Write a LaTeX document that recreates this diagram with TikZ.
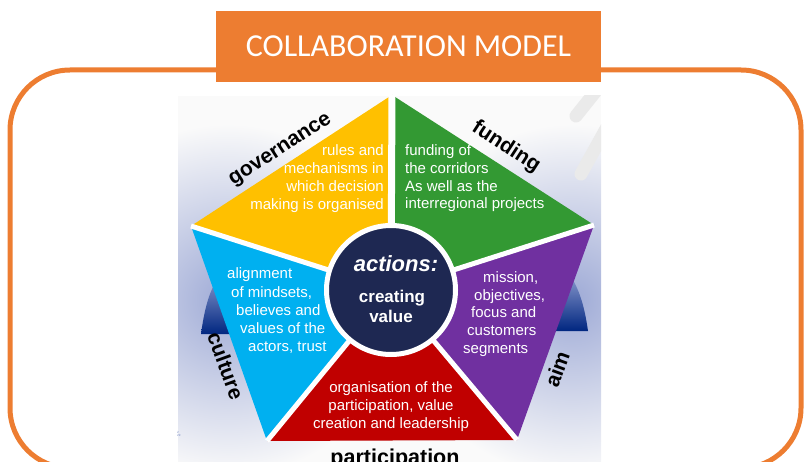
\documentclass[tikz,border=0pt]{standalone}
\usepackage{fontspec}
\setmainfont{Liberation Sans}
\newfontfamily\titlefont{Carlito}
\definecolor{frameorange}{RGB}{237,125,49}
\definecolor{bggrey}{RGB}{250,250,250}
\definecolor{glowblue}{RGB}{158,170,214}
\definecolor{wedgeblue}{RGB}{0,38,128}
\definecolor{wedgetop}{RGB}{120,138,195}
\definecolor{streakgrey}{RGB}{234,234,234}
\definecolor{govyellow}{RGB}{255,192,0}
\definecolor{fundgreen}{RGB}{51,153,51}
\definecolor{aimpurple}{RGB}{112,48,160}
\definecolor{partred}{RGB}{192,0,0}
\definecolor{cultcyan}{RGB}{0,176,240}
\definecolor{hubnavy}{RGB}{30,40,82}
\tikzset{
	linetext/.style={text=white, inner sep=0pt, font=\fontsize{15}{18}\selectfont},
	sidelabel/.style={inner sep=0pt, font=\fontsize{21}{25}\selectfont\bfseries},
	hubtext/.style={text=white, inner sep=0pt, anchor=base},
}

\begin{document}
\begin{tikzpicture}[x=1pt,y=-1pt]
	\useasboundingbox (0,0) rectangle (808,462);
	\clip (0,0) rectangle (808,462);

	% orange frame with the title tab
	\draw [frameorange, line width=5pt, rounded corners=60pt] (10,70) rectangle (801,468);
	\node [fill=frameorange, text=white, minimum width=385pt, minimum height=71pt, inner sep=0pt,
		font=\titlefont\fontsize{32}{38}\selectfont] (title) at (408.5,46.5) {COLLABORATION MODEL};

	% slide area behind the pentagon
	\fill [bggrey] (178,96) rectangle (601,462);
	\begin{scope}
		\clip (178,96) rectangle (601,462);
		\shade [inner color=glowblue, outer color=bggrey] (228,300) circle (176pt);
		\shade [inner color=glowblue, outer color=bggrey] (572,300) circle (176pt);
		\shade [top color=wedgetop, bottom color=wedgeblue] (201,334) .. controls (204,312) and (208,296) .. (215,283) -- (240,283) -- (240,334) -- cycle;
		\shade [top color=wedgetop, bottom color=wedgeblue] (588,331) .. controls (585,310) and (581,295) .. (574,282) -- (550,282) -- (550,331) -- cycle;
		\draw [streakgrey, line width=13pt, line cap=round] (576,116) -- (600,86);
		\draw [streakgrey, line width=13pt, line cap=round] (581,174) -- (612,118);
	\end{scope}

	% pentagon
	\coordinate (top) at (392,95);
	\coordinate (upleft) at (191,226);
	\coordinate (upright) at (594,225);
	\coordinate (lowleft) at (267,441);
	\coordinate (lowright) at (517,440);
	\coordinate (mid) at (391,290);

	\fill [govyellow] (mid) -- (upleft) -- (top) -- cycle;
	\fill [fundgreen] (mid) -- (top) -- (upright) -- cycle;
	\fill [aimpurple] (mid) -- (upright) -- (lowright) -- cycle;
	\fill [partred] (mid) -- (lowright) -- (lowleft) -- cycle;
	\fill [cultcyan] (mid) -- (lowleft) -- (upleft) -- cycle;
	\foreach \c/\w in {top/7, upleft/5, upright/5, lowleft/5, lowright/5}
		\draw [white, line width=\w pt] (mid) -- (\c);
	\node [circle, fill=hubnavy, draw=white, line width=5pt, minimum size=129pt, inner sep=0pt] (hub) at (mid) {};

	% texts inside the pieces
	\foreach \x/\y/\t [count=\i] in {384/156/rules and, 384/174/mechanisms in, 384/192/which decision, 384/210/making is organised}
		\node [linetext, anchor=base east] (gov-\i) at (\x,\y) {\t};
	\foreach \x/\y/\t [count=\i] in {405/156/funding of, 405/174/the corridors, 405/192/As well as the, 405/209/interregional projects}
		\node [linetext, anchor=base west] (fund-\i) at (\x,\y) {\t};
	\foreach \x/\y/\t [count=\i] in {227/279/alignment, 231/297/{of mindsets,}, 236/315/believes and, 240/333/values of the, 248/351/{actors, trust}}
		\node [linetext, anchor=base west] (cult-\i) at (\x,\y) {\t};
	\foreach \x/\y/\t [count=\i] in {483/282/{mission,}, 474/300/{objectives,}, 471/317/focus and, 467/335/customers, 463/353/segments}
		\node [linetext, anchor=base west] (aim-\i) at (\x,\y) {\t};
	\foreach \x/\y/\t [count=\i] in {391/392/organisation of the, 391/410/{participation, value}, 391/428/creation and leadership}
		\node [linetext, anchor=base] (part-\i) at (\x,\y) {\t};

	\node [hubtext, font=\fontsize{22}{26}\selectfont\bfseries\itshape] (actions) at (396,272) {actions:};
	\node [hubtext, font=\fontsize{17}{20}\selectfont\bfseries] (creating) at (392,302) {creating};
	\node [hubtext, font=\fontsize{17}{20}\selectfont\bfseries] (value) at (391,322) {value};

	% names along the sides
	\node [sidelabel, rotate=33] (governance) at (281,151) {governance};
	\node [sidelabel, rotate=-33] (funding) at (506,147) {funding};
	\node [sidelabel, rotate=70] (aim) at (557,369) {aim};
	\node [sidelabel, rotate=-70] (culture) at (226,366) {culture};
	\node [sidelabel, font=\fontsize{21.5}{25}\selectfont\bfseries, anchor=base] (participation) at (395,464) {participation};

	\node [inner sep=0pt, text=wedgetop, font=\fontsize{3}{3.5}\selectfont, align=left, anchor=north west] (pageno) at (177,431) {2\\29};
\end{tikzpicture}
\end{document}
